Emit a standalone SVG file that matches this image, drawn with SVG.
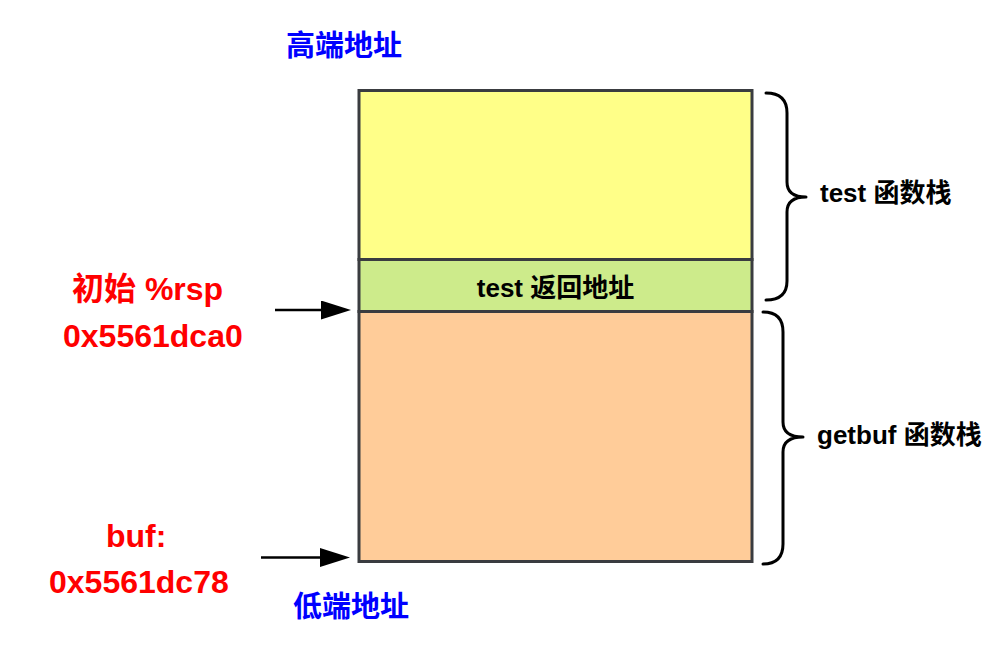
<svg xmlns="http://www.w3.org/2000/svg" width="1006" height="645" viewBox="0 0 1006 645">
<style>
text{font-family:"Liberation Sans","Noto Sans CJK SC",sans-serif;font-weight:bold}
.blk{fill:#000;font-size:26px}
.red{fill:#FF0000;font-size:32px}
.blue{fill:#0000FF;font-size:29px}
.box{stroke:#3a3c40;stroke-width:3}
.brace{fill:none;stroke:#000;stroke-width:3;stroke-linecap:round;stroke-linejoin:round}
.arr{stroke:#000;stroke-width:2.5;fill:none}
</style>
<defs>
<marker id="ah" markerUnits="userSpaceOnUse" markerWidth="30" markerHeight="19" viewBox="0 0 30 19" refX="0" refY="9.5" orient="auto">
<path d="M0,0 L30,9.5 L0,19 z" fill="#000"/>
</marker>
</defs>
<rect width="1006" height="645" fill="#fff"/>
<g id="node-test-stack">
<rect class="box" x="359" y="90.5" width="393" height="169" fill="#FFFF88"/>
</g>
<g id="node-return-addr">
<rect class="box" x="359" y="259.5" width="393" height="52" fill="#CDEB8B"/>
<text class="blk" x="555.5" y="297" text-anchor="middle">test 返回地址</text>
</g>
<g id="node-getbuf-stack">
<rect class="box" x="359" y="311.5" width="393" height="250" fill="#FFCC99"/>
</g>
<g id="label-high">
<text class="blue" x="286" y="55.5">高端地址</text>
</g>
<g id="label-low">
<text class="blue" x="293" y="617">低端地址</text>
</g>
<g id="label-rsp">
<text class="red" x="72" y="300">初始 %rsp</text>
<text class="red" x="63" y="347">0x5561dca0</text>
</g>
<g id="label-buf">
<text class="red" x="106" y="547">buf:</text>
<text class="red" x="49" y="593">0x5561dc78</text>
</g>
<g id="brace-test">
<path class="brace" d="M766,93 Q787,93 787,113 L787,182 Q787,197 806,197 Q787,197 787,212 L787,281 Q787,300 766,300"/>
<text class="blk" x="820" y="202">test 函数栈</text>
</g>
<g id="brace-getbuf">
<path class="brace" d="M763,312 Q783,312 783,332 L783,422 Q783,437 803,437 Q783,437 783,452 L783,544 Q783,564 763,564"/>
<text class="blk" x="817" y="444">getbuf 函数栈</text>
</g>
<g id="connectors">
<line class="arr" x1="275" y1="310" x2="321" y2="310" marker-end="url(#ah)"/>
<line class="arr" x1="261" y1="557.5" x2="320" y2="557.5" marker-end="url(#ah)"/>
</g>
</svg>
